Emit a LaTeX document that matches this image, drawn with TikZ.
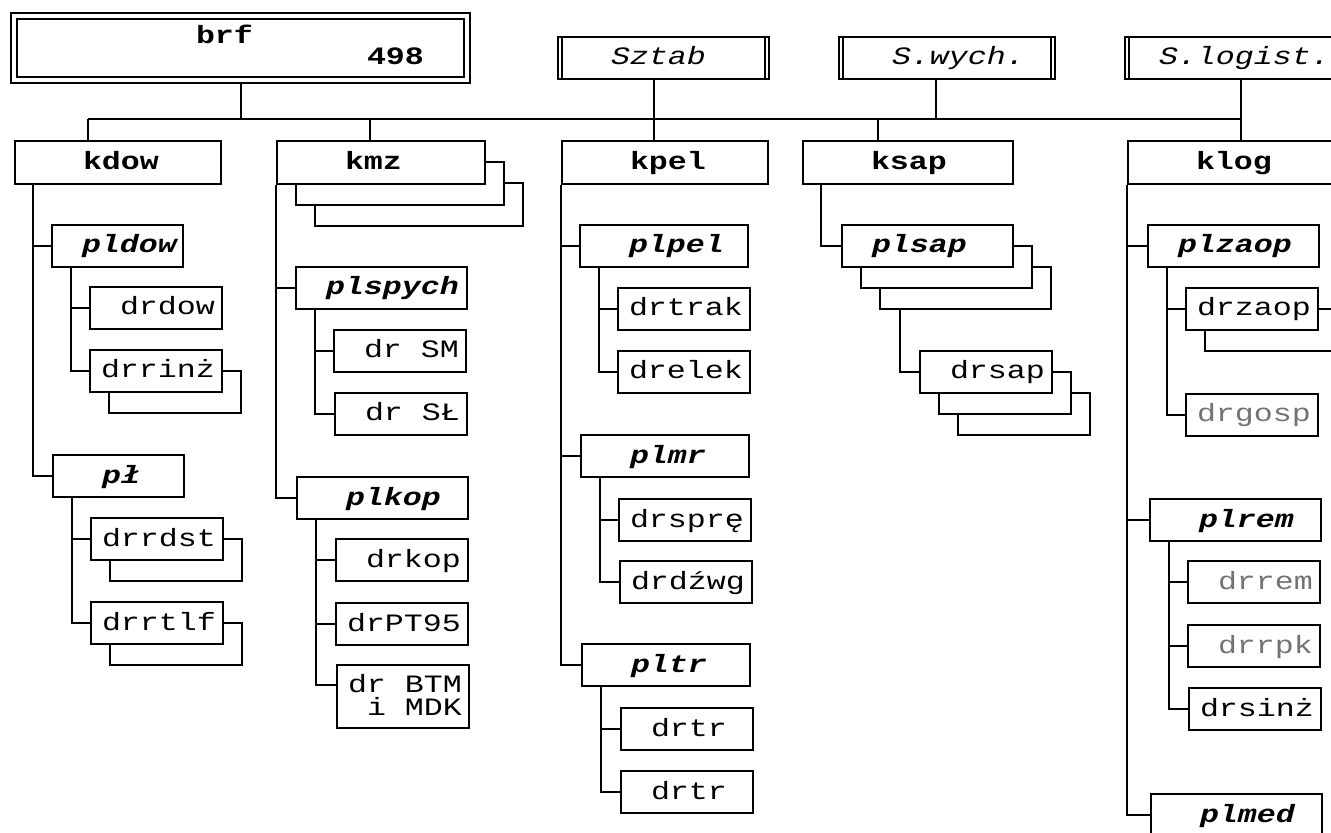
\documentclass[tikz,border=0pt]{standalone}
\usepackage{fontspec}
\setmonofont{Liberation Mono}[FakeStretch=1.265]
\usetikzlibrary{shadows}
\hyphenpenalty=10000
\newlength\cw
\setlength\cw{9.5pt}
\newcommand\pad[1]{\hspace*{#1\cw}}
\newcommand\tfont{\fontsize{12.5pt}{10.5pt}\selectfont\ttfamily}
\tikzset{
  box/.style={draw, fill=white, anchor=north west, minimum height=21pt, inner xsep=5.5pt,
    inner ysep=0pt, text height=9.5pt, text depth=2.5pt, align=left},
  brfbox/.style={box, double, double distance=2pt, minimum height=32pt, text width=215.5pt,
    text height=8pt, text depth=12pt, font=\tfont\bfseries},
  hbox/.style={box, inner xsep=7.5pt, text width=90.5pt, font=\tfont\itshape},
  kbox/.style={box, minimum height=21.5pt, text width=92pt, font=\tfont\bfseries},
  plbox/.style={box, text width=74.5pt, font=\tfont\bfseries\itshape},
  narrow/.style={text width=54.5pt},
  drbox/.style={box, text width=55pt, font=\tfont},
  stack/.style={copy shadow={shadow xshift=9.5pt, shadow yshift=-10.5pt}},
  stack2/.style={copy shadow={shadow xshift=19pt, shadow yshift=-21pt}, stack},
  faint/.style={text=black!55}
}
\begin{document}
\begin{tikzpicture}[x=0.5pt, y=-0.5pt, line width=1pt]
\useasboundingbox (0,0) rectangle (1331,833);
\clip (0,0) rectangle (1331,833);
% top row
\node[brfbox] (brf) at (13,15) {\pad{9}brf\\\pad{18}498};
\node[hbox] (sztab) at (557,36) {\pad{2}Sztab};
\node[hbox, text width=93pt] (swych) at (838,36) {\pad{2}S.wych.};
\node[hbox] (slog) at (1124,36) {\pad{1}S.logist.};
\foreach \n in {sztab, swych, slog}
  \draw ([xshift=2.5pt]\n.north west) -- ([xshift=2.5pt]\n.south west)
        ([xshift=-2.5pt]\n.north east) -- ([xshift=-2.5pt]\n.south east);
% companies
\node[kbox] (kdow) at (14,140) {\pad{3}kdow};
\node[kbox, text width=93pt, stack2] (kmz) at (276,140) {\pad{3}kmz};
\node[kbox] (kpel) at (561,140) {\pad{3}kpel};
\node[kbox, text width=94pt] (ksap) at (802,140) {\pad{3}ksap};
\node[kbox] (klog) at (1127,140) {\pad{3}klog};
% kdow
\node[plbox, narrow] (pldow) at (51,224) {\pad{1}pldow};
\node[drbox] (drdow) at (89,286) {\pad{1}drdow};
\node[drbox, stack] (drrinz) at (89,349) {drrinż};
\node[plbox, narrow] (pll) at (52,454) {\pad{2}pł};
\node[drbox, stack] (drrdst) at (90,517) {drrdst};
\node[drbox, stack] (drrtlf) at (90,601) {drrtlf};
% kmz
\node[plbox] (plspych) at (295,266) {\pad{1}plspych};
\node[drbox] (drsm) at (333,329) {\pad{1}dr\pad{1}SM};
\node[drbox] (drsl) at (334,392) {\pad{1}dr\pad{1}SŁ};
\node[plbox] (plkop) at (296,476) {\pad{2}plkop};
\node[drbox] (drkop) at (335,538) {\pad{1}drkop};
\node[drbox] (drpt) at (335,602) {drPT95};
\node[drbox, minimum height=31.5pt, text height=8pt, text depth=12.5pt] (drbtm) at (336,664)
  {dr\pad{1}BTM\\[1pt]\pad{1}i\pad{1}MDK};
% kpel
\node[plbox, text width=73pt] (plpel) at (579,224) {\pad{2}plpel};
\node[drbox] (drtrak) at (617,287) {drtrak};
\node[drbox] (drelek) at (617,350) {drelek};
\node[plbox, text width=73pt] (plmr) at (580,434) {\pad{2}plmr};
\node[drbox] (drspre) at (618,498) {drsprę};
\node[drbox] (drdzwg) at (619,560) {drdźwg};
\node[plbox, text width=73pt] (pltr) at (581,643) {\pad{2}pltr};
\node[drbox] (drtra) at (620,707) {\pad{1}drtr};
\node[drbox] (drtrb) at (620,770) {\pad{1}drtr};
% ksap
\node[plbox, stack2] (plsap) at (841,224) {\pad{1}plsap};
\node[drbox, stack2] (drsap) at (919,350) {\pad{1}drsap};
% klog
\node[plbox] (plzaop) at (1147,224) {\pad{1}plzaop};
\node[drbox, stack] (drzaop) at (1185,287) {drzaop};
\node[drbox, faint] (drgosp) at (1185,393) {drgosp};
\node[plbox] (plrem) at (1149,498) {\pad{2}plrem};
\node[drbox, faint] (drrem) at (1187,560) {\pad{1}drrem};
\node[drbox, faint] (drrpk) at (1187,624) {\pad{1}drrpk};
\node[drbox] (drsinz) at (1188,687) {drsinż};
\node[plbox] (plmed) at (1150,793) {\pad{2}plmed};
% bus and stems
\coordinate (busL) at (88,119);
\coordinate (busR) at (1240,119);
\draw (busL) -- (busR);
\draw ([yshift=-1.5pt]brf.south) -- (brf.south |- busL);
\draw ([xshift=-5pt]sztab.south) -- ([xshift=-5pt]sztab.south |- kpel.north);
\draw ([xshift=-5.5pt]swych.south) -- ([xshift=-5.5pt]swych.south |- busL);
\draw ([xshift=5pt]slog.south) -- ([xshift=5pt]slog.south |- klog.north);
\foreach \n/\s in {kdow/37pt, kmz/47pt, ksap/38pt}
  \draw ([xshift=\s]\n.north west) -- ([xshift=\s]\n.north west |- busL);
% branches
\foreach \c in {pldow, pll} \draw ([xshift=9.5pt]kdow.south west) |- (\c.west);
\foreach \c in {drdow, drrinz} \draw ([xshift=10pt]pldow.south west) |- (\c.west);
\foreach \c in {drrdst, drrtlf} \draw ([xshift=10pt]pll.south west) |- (\c.west);
\foreach \c in {plspych, plkop} \draw (kmz.south west) |- (\c.west);
\foreach \c in {drsm, drsl} \draw ([xshift=10pt]plspych.south west) |- (\c.west);
\foreach \c in {drkop, drpt} \draw ([xshift=10pt]plkop.south west) |- (\c.west);
\draw ([xshift=10pt]plkop.south west) |- ([yshift=-10.5pt]drbtm.north west);
\foreach \c in {plpel, plmr, pltr} \draw (kpel.south west) |- (\c.west);
\foreach \c in {drtrak, drelek} \draw ([xshift=10pt]plpel.south west) |- (\c.west);
\foreach \c in {drspre, drdzwg} \draw ([xshift=10pt]plmr.south west) |- (\c.west);
\foreach \c in {drtra, drtrb} \draw ([xshift=10pt]pltr.south west) |- (\c.west);
\draw ([xshift=9.5pt]ksap.south west) |- (plsap.west);
\draw ([xshift=29.5pt, yshift=-21pt]plsap.south west) |- (drsap.west);
\foreach \c in {plzaop, plrem, plmed} \draw (klog.south west) |- (\c.west);
\foreach \c in {drzaop, drgosp} \draw ([xshift=10pt]plzaop.south west) |- (\c.west);
\foreach \c in {drrem, drrpk, drsinz} \draw ([xshift=10pt]plrem.south west) |- (\c.west);
\end{tikzpicture}
\end{document}
